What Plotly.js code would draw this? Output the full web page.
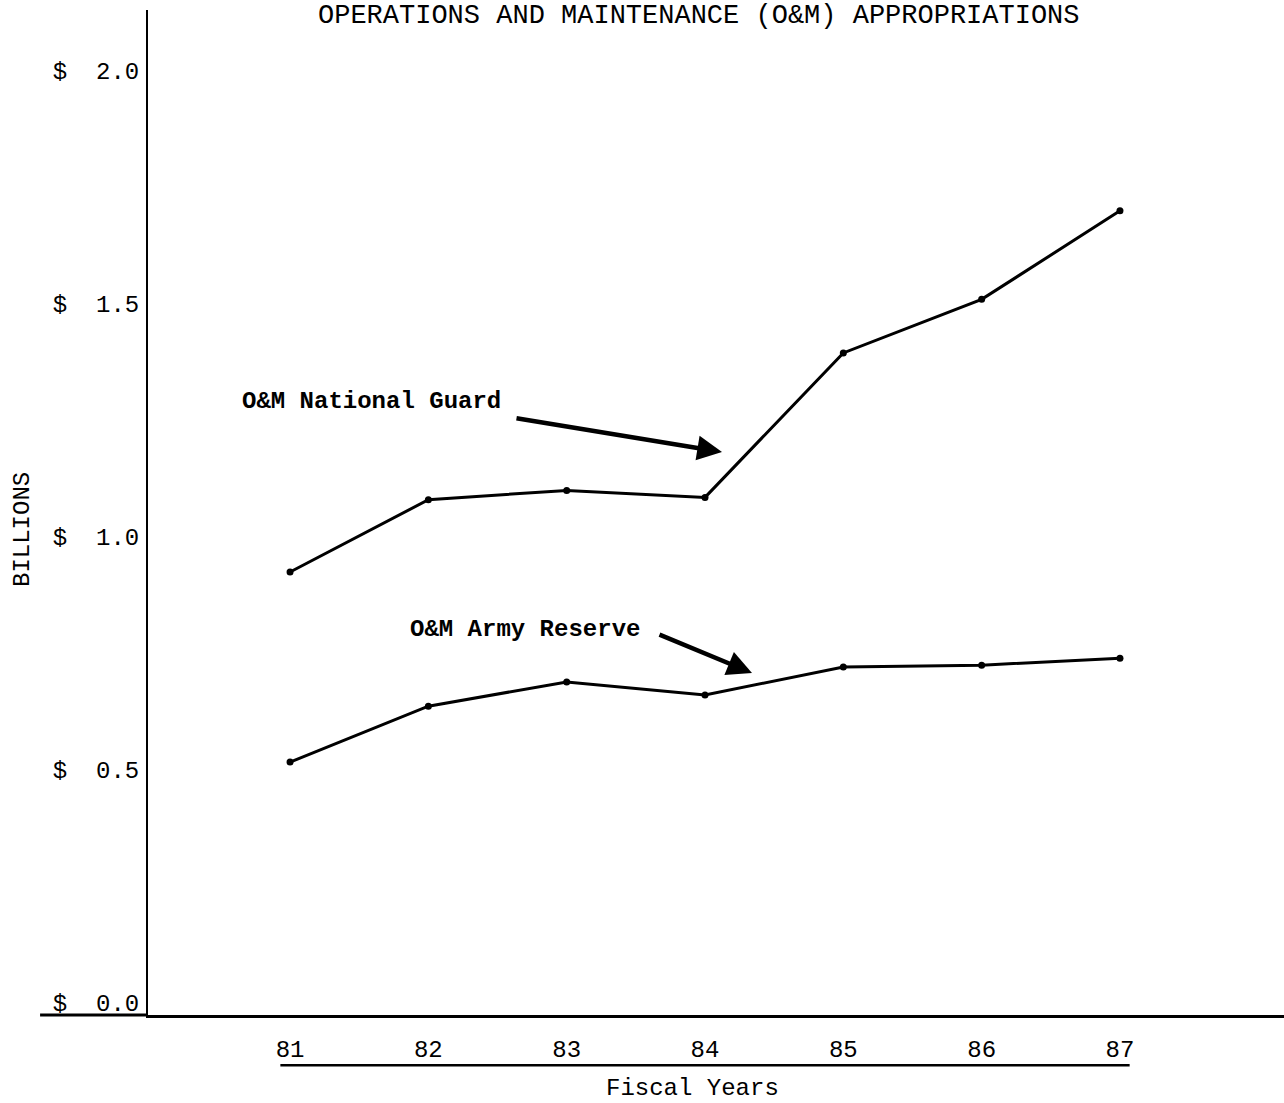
<!DOCTYPE html>
<html>
<head>
<meta charset="utf-8">
<script src="https://cdn.plot.ly/plotly-3.0.1.min.js"></script>
<style>html,body{margin:0;padding:0;background:#fff;}#chart{width:1284px;height:1103px;}</style>
</head>
<body>
<div id="chart"></div>
<script>
const years = [81, 82, 83, 84, 85, 86, 87];
const yearLabels = ["81", "82", "83", "84", "85", "86", "87"];
const nationalGuard = [0.925, 1.08, 1.10, 1.085, 1.395, 1.51, 1.70];
const armyReserve = [0.517, 0.637, 0.689, 0.661, 0.721, 0.725, 0.740];
const yTickVals = [0, 0.5, 1.0, 1.5, 2.0];
const yTickText = ["$  0.0", "$  0.5", "$  1.0", "$  1.5", "$  2.0"];

const FONT = "Liberation Mono, Courier New, monospace";

const traces = [
  {x: years, y: nationalGuard, mode: "lines+markers", name: "O&M National Guard",
   line: {color: "#000", width: 3}, marker: {color: "#000", size: 7}},
  {x: years, y: armyReserve, mode: "lines+markers", name: "O&M Army Reserve",
   line: {color: "#000", width: 3}, marker: {color: "#000", size: 7}}
];

const layout = {
  width: 1284, height: 1103,
  margin: {l: 148, r: 0, t: 10, b: 88},
  paper_bgcolor: "#fff", plot_bgcolor: "#fff",
  showlegend: false,
  font: {family: FONT, color: "#000"},
  xaxis: {
    range: [79.973, 88.186], tickvals: years, ticktext: yearLabels,
    showgrid: false, zeroline: false, showline: true, linecolor: "#000", linewidth: 3,
    ticks: "outside", ticklen: 10, tickcolor: "rgba(0,0,0,0)",
    tickfont: {family: FONT, size: 24, color: "#000"}
  },
  yaxis: {
    range: [-0.0258, 2.131], tickvals: yTickVals, ticktext: yTickText,
    showgrid: false, zeroline: false, showline: true, linecolor: "#000", linewidth: 2,
    ticks: "outside", ticklen: 2, tickcolor: "rgba(0,0,0,0)",
    tickfont: {family: FONT, size: 24, color: "#000"}
  },
  shapes: [
    {type: "line", xref: "paper", yref: "paper", x0: -0.095, x1: 0, y0: 0, y1: 0,
     line: {color: "#000", width: 3}},
    {type: "line", xref: "x", yref: "paper", x0: years[0] - 0.07, x1: years[years.length - 1] + 0.07,
     y0: -0.05, y1: -0.05, line: {color: "#000", width: 2.5}}
  ],
  annotations: [
    {text: "OPERATIONS AND MAINTENANCE (O&M) APPROPRIATIONS", xref: "paper", yref: "paper",
     x: (699 - 148) / 1136, y: (1015 - 16) / 1005, xanchor: "center", yanchor: "middle",
     showarrow: false, font: {family: FONT, size: 27, color: "#000"}},
    {text: "BILLIONS", xref: "paper", yref: "paper", x: (22 - 148) / 1136, y: (1015 - 530) / 1005,
     xanchor: "center", yanchor: "middle", textangle: -90, showarrow: false,
     font: {family: FONT, size: 24, color: "#000"}},
    {text: "Fiscal Years", xref: "paper", yref: "paper", x: (692 - 148) / 1136, y: (1015 - 1088) / 1005,
     xanchor: "center", yanchor: "middle", showarrow: false,
     font: {family: FONT, size: 24, color: "#000"}},
    {text: "", xref: "paper", yref: "paper",
     x: (722 - 148) / 1136, y: (1015 - 452) / 1005, ax: 515 - 722, ay: 418 - 452,
     showarrow: true, arrowhead: 2, arrowsize: 1.1, arrowwidth: 4.5, arrowcolor: "#000"},
    {text: "<b>O&M National Guard</b>", xref: "paper", yref: "paper",
     x: (240 - 148) / 1136, y: (1015 - 402) / 1005, xanchor: "left", yanchor: "middle",
     showarrow: false, font: {family: FONT, size: 24, color: "#000"}},
    {text: "<b>O&M Army Reserve</b>", xref: "paper", yref: "paper",
     x: (408 - 148) / 1136, y: (1015 - 629) / 1005, xanchor: "left", yanchor: "middle",
     showarrow: false, font: {family: FONT, size: 24, color: "#000"}},
    {text: "", xref: "paper", yref: "paper",
     x: (752 - 148) / 1136, y: (1015 - 673) / 1005, ax: 658 - 752, ay: 634 - 673,
     showarrow: true, arrowhead: 2, arrowsize: 1.1, arrowwidth: 4.5, arrowcolor: "#000"}
  ]
};

Plotly.newPlot("chart", traces, layout, {displayModeBar: false, staticPlot: true});
</script>
</body>
</html>
